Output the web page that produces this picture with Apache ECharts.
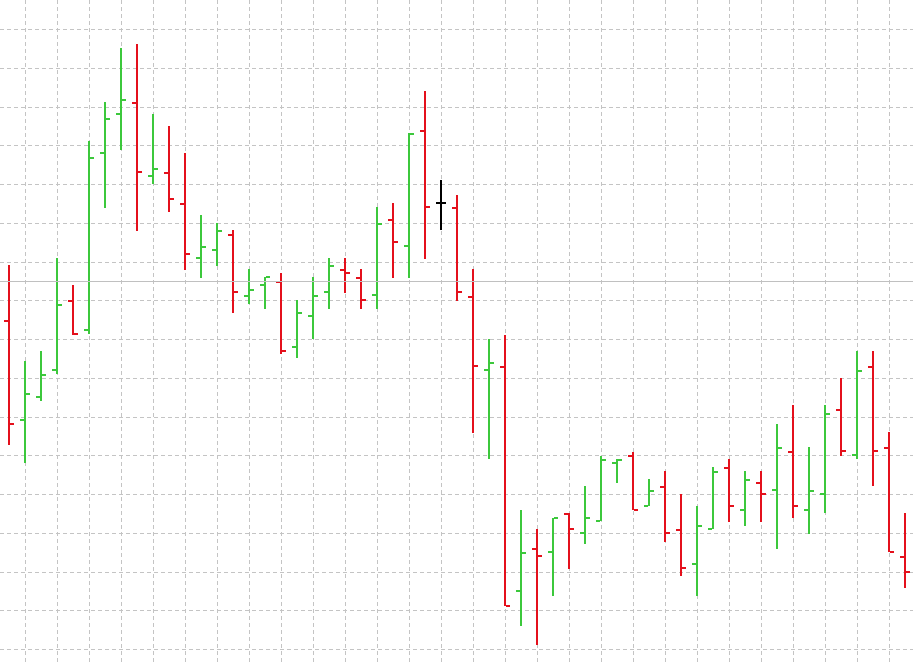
<!DOCTYPE html>
<html>
<head>
<meta charset="utf-8">
<style>
  html, body { margin: 0; padding: 0; background: #ffffff; }
  #chart { width: 913px; height: 663px; }
</style>
<script src="https://cdn.jsdelivr.net/npm/echarts@6/dist/echarts.min.js"></script>
</head>
<body>
<div id="chart"></div>
<script>
// Bar index (x) and OHLC values
const barIndex = [0,1,2,3,4,5,6,7,8,9,10,11,12,13,14,15,16,17,18,19,20,21,22,23,24,25,26,27,28,29,30,31,32,33,34,35,36,37,38,39,40,41,42,43,44,45,46,47,48,49,50,51,52,53,54,55,56];
const opens  = [184.80,159.17,165.11,172.08,189.88,182.40,228.08,238.14,241.06,222.22,222.99,214.99,200.98,203.12,206.99,191.25,194.09,194.79,178.09,186.09,192.21,197.96,195.90,191.35,210.79,204.08,233.75,215.25,213.96,190.99,172.08,172.93,115.12,125.96,125.19,134.99,130.09,133.11,148.08,149.96,136.98,141.96,130.79,122.01,131.04,146.86,135.95,142.99,141.11,150.91,135.95,140.08,161.83,150.14,172.93,152.02,123.90];
const highs  = [199.17,174.48,176.90,201.06,194.01,231.25,241.24,255.17,256.21,238.14,235.04,228.15,212.08,210.01,208.21,198.14,196.00,197.03,190.14,196.08,200.98,200.98,198.14,214.14,215.17,233.16,244.08,221.11,217.24,198.06,180.00,181.11,135.87,131.04,133.96,135.10,142.14,149.96,149.03,150.99,143.87,146.01,140.08,137.06,147.04,149.11,146.01,146.01,158.06,163.04,152.13,163.04,169.93,176.90,176.90,156.08,135.17];
const lows   = [152.72,148.00,164.08,171.04,181.11,181.37,213.96,228.85,208.02,220.00,212.93,197.88,195.90,198.99,186.86,189.03,187.90,176.21,175.09,180.00,187.90,192.02,187.90,187.90,195.90,195.90,200.80,208.13,189.96,155.90,149.03,111.17,105.94,101.03,113.83,120.72,127.10,133.11,142.99,135.87,136.98,127.77,118.99,113.83,131.04,132.85,131.90,132.85,125.88,133.96,129.83,135.10,149.96,149.03,142.06,125.03,115.90];
const closes = [158.14,165.96,170.86,188.93,181.37,226.79,236.93,241.83,223.17,223.95,216.28,202.01,203.90,208.02,192.21,192.80,196.00,177.06,186.86,191.10,198.91,197.19,190.22,209.83,205.19,233.06,214.22,215.25,192.21,173.19,173.96,111.17,124.93,124.08,133.96,131.04,133.96,148.85,148.93,135.95,140.85,130.09,121.06,131.90,145.75,137.06,143.77,140.08,152.02,137.06,140.85,160.72,151.25,171.90,151.25,125.19,120.02];
// Level of the solid horizontal line
const priceLine = 194.86;

const UP = '#3cc83c', DOWN = '#e4101c', FLAT = '#000000';
const GRID_LINE = { color: '#c4c4c4', type: [4, 3], width: 1 };

const data = barIndex.map((x, k) => [x, opens[k], highs[k], lows[k], closes[k]]);

const chart = echarts.init(document.getElementById('chart'), null, { renderer: 'canvas' });

const hidden = { axisLine: { show: false }, axisTick: { show: false }, axisLabel: { show: false } };

chart.setOption({
  animation: false,
  backgroundColor: '#ffffff',
  grid: [
    // price grid: full width, horizontal dashed lines
    { left: 0, right: 0, top: 29.3, bottom: 13.7, containLabel: false },
    // time grid: full height, vertical dashed lines
    { left: 25.5, right: 23.5, top: 0, bottom: 0, containLabel: false }
  ],
  xAxis: [
    Object.assign({ gridIndex: 0, type: 'value', min: -0.5625, max: 56.5, splitLine: { show: false } }, hidden),
    Object.assign({ gridIndex: 1, type: 'value', min: 1, max: 55, interval: 2,
      splitLine: { show: true, showMinLine: true, showMaxLine: true, lineStyle: GRID_LINE } }, hidden)
  ],
  yAxis: [
    Object.assign({ gridIndex: 0, type: 'value', min: 100, max: 260, interval: 10,
      splitLine: { show: true, showMinLine: true, showMaxLine: true, lineStyle: GRID_LINE } }, hidden),
    Object.assign({ gridIndex: 1, type: 'value', min: 0, max: 1, splitLine: { show: false } }, hidden)
  ],
  series: [{
    type: 'custom',
    xAxisIndex: 0,
    yAxisIndex: 0,
    data: data,
    encode: { x: 0, y: [1, 2, 3, 4] },
    clip: false,
    renderItem: function (params, api) {
      const i = api.value(0);
      const o = api.value(1), h = api.value(2), l = api.value(3), c = api.value(4);
      const pH = api.coord([i, h]);
      const pL = api.coord([i, l]);
      const pO = api.coord([i, o]);
      const pC = api.coord([i, c]);
      const cx = Math.round(pH[0]);
      const color = c > o ? UP : (c < o ? DOWN : FLAT);
      const yH = Math.round(pH[1]), yL = Math.round(pL[1]);
      const yO = Math.round(pO[1]), yC = Math.round(pC[1]);
      return {
        type: 'group',
        children: [
          { type: 'rect', shape: { x: cx - 1, y: yH, width: 2, height: yL - yH }, style: { fill: color } },
          { type: 'rect', shape: { x: cx - 5, y: yO - 1, width: 4, height: 2 }, style: { fill: color } },
          { type: 'rect', shape: { x: cx + 1, y: yC - 1, width: 4, height: 2 }, style: { fill: color } }
        ]
      };
    },
    markLine: {
      silent: true,
      symbol: ['none', 'none'],
      label: { show: false },
      lineStyle: { color: '#c0c0c0', type: 'solid', width: 1 },
      data: [{ yAxis: priceLine }]
    }
  }]
});
</script>
</body>
</html>
